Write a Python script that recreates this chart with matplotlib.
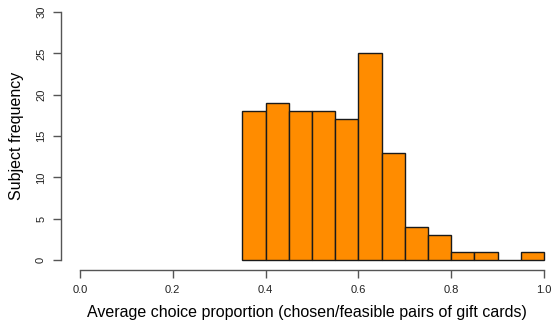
import matplotlib
matplotlib.use("Agg")
import matplotlib.pyplot as plt
import numpy as np

plt.rcParams["font.family"] = ["Liberation Sans", "DejaVu Sans"]

# histogram bins (width 0.05) and subject counts
bin_edges = [0.35, 0.40, 0.45, 0.50, 0.55, 0.60, 0.65, 0.70, 0.75, 0.80, 0.85, 0.90, 0.95, 1.00]
counts = [18, 19, 18, 18, 17, 25, 13, 4, 3, 1, 1, 0, 1]
x_ticks = [0.0, 0.2, 0.4, 0.6, 0.8, 1.0]
x_tick_labels = ["0.0", "0.2", "0.4", "0.6", "0.8", "1.0"]
y_ticks = [0, 5, 10, 15, 20, 25, 30]

W, H = 552, 327
fig = plt.figure(figsize=(W / 100, H / 100), dpi=100)
ax = fig.add_axes([61.4 / W, (H - 269.9) / H, (W - 61.4) / W, 267.8 / H])

left = np.array(bin_edges[:-1])
width = np.diff(bin_edges)
ax.bar(left, counts, width=width, align="edge", color="#FF8C00",
       edgecolor="#1a1a1a", linewidth=1.0)

ax.set_xlim(-0.04, (W - 80) / 464)
ax.set_ylim(-1.2, 31.2)

for s in ["top", "right"]:
    ax.spines[s].set_visible(False)
ax.spines["left"].set_bounds(0, 30)
ax.spines["bottom"].set_bounds(0, 1)
for s in ["left", "bottom"]:
    ax.spines[s].set_color("#555555")
    ax.spines[s].set_linewidth(1.0)

ax.set_xticks(x_ticks)
ax.set_xticklabels(x_tick_labels)
ax.set_yticks(y_ticks)
ax.set_yticklabels([str(v) for v in y_ticks], rotation=90, va="center")
ax.tick_params(axis="both", direction="out", length=6, width=1.0,
               color="#555555", labelsize=8, labelcolor="#222222", pad=5)

ax.set_xlabel("Average choice proportion (chosen/feasible pairs of gift cards)",
              fontsize=11.5, labelpad=7)
ax.set_ylabel("Subject frequency", fontsize=11.5, labelpad=9)

fig.savefig("out.png", dpi=100)
